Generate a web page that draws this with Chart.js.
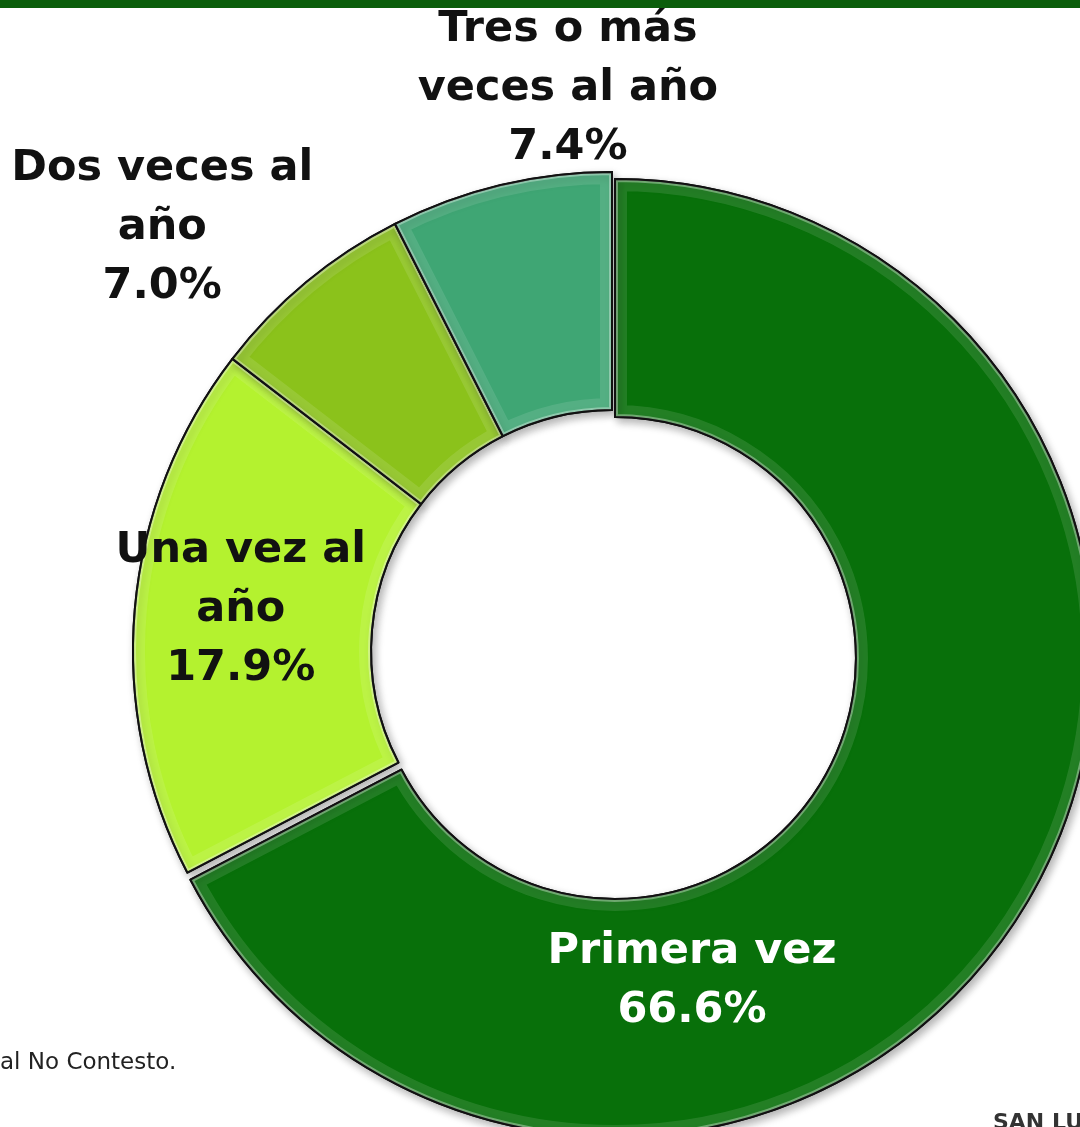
<!DOCTYPE html>
<html>
<head>
<meta charset="utf-8">
<script src="https://cdn.jsdelivr.net/npm/chart.js@4"></script>
<style>
  html, body { margin: 0; padding: 0; background: #fff; }
  body { width: 1080px; height: 1127px; overflow: hidden; position: relative; }
  #topbar { position: absolute; left: 0; top: 0; width: 1080px; height: 8px; background: #0b5e0b; }
  #chart { position: absolute; left: 0; top: 0; }
  #nota { position: absolute; left: 0; top: 1048px; font: 23px "DejaVu Sans", sans-serif; color: #222; white-space: nowrap; }
  #marca { position: absolute; left: 993px; top: 1111px; font: bold 22px "DejaVu Sans", sans-serif; color: #333; white-space: nowrap; line-height: 1; }
</style>
</head>
<body>
<canvas id="chart" width="1080" height="1127"></canvas>
<div id="topbar"></div>
<div id="nota">al No Contesto.</div>
<div id="marca">SAN LUIS</div>
<script>
// categorias (cada una partida en lineas como en la lamina)
var categorias = [
  ['Primera vez'],
  ['Una vez al', 'año'],
  ['Dos veces al', 'año'],
  ['Tres o más', 'veces al año']
];
var porcentajes = [66.6, 17.9, 7.0, 7.4];

var colores = ['#08700a', '#b4f22f', '#8bc21b', '#3fa674'];
var colorTexto = ['#ffffff', '#111111', '#111111', '#111111'];
// rebanada separada (px) como en la lamina
var desplazamiento = [[3, 7], [0, 0], [0, 0], [0, 0]];
// donde va cada etiqueta, relativo al centro, en fracciones del radio
var posEtiqueta = [[0.167, 0.689], [-0.775, -0.086], [-0.939, -0.883], [-0.092, -1.173]];

// dona con rebanadas desplazadas sin cambiar el radio
class DonaSeparada extends Chart.DoughnutController {
  draw() {
    var c = this.chart.ctx;
    var area = this.chart.chartArea;
    this._cachedMeta.data.forEach(function(arc, i) {
      c.save();
      c.translate(desplazamiento[i][0], desplazamiento[i][1]);
      arc.draw(c, area);
      c.restore();
    });
  }
}
DonaSeparada.id = 'donaSeparada';
DonaSeparada.defaults = Chart.DoughnutController.defaults;
DonaSeparada.overrides = Chart.DoughnutController.overrides;
Chart.register(DonaSeparada);

var ctx = document.getElementById('chart').getContext('2d');

// sombra debajo de la dona
var sombra = {
  id: 'sombra',
  beforeDatasetsDraw(chart) {
    var c = chart.ctx;
    c.save();
    c.shadowColor = 'rgba(0,0,0,0.3)';
    c.shadowBlur = 8;
    c.shadowOffsetX = 3;
    c.shadowOffsetY = 4;
  },
  afterDatasetsDraw(chart) {
    chart.ctx.restore();
  }
};

// efecto de bisel en cada rebanada
var bisel = {
  id: 'bisel',
  afterDatasetsDraw(chart) {
    var c = chart.ctx;
    chart.getDatasetMeta(0).data.forEach(function(arc, i) {
      var o = arc.options;
      var cx = arc.x + desplazamiento[i][0];
      var cy = arc.y + desplazamiento[i][1];
      c.save();
      c.beginPath();
      c.arc(cx, cy, arc.outerRadius, arc.startAngle, arc.endAngle);
      c.arc(cx, cy, arc.innerRadius, arc.endAngle, arc.startAngle, true);
      c.closePath();
      c.save();
      c.clip();
      c.lineJoin = 'round';
      c.strokeStyle = 'rgba(255,255,255,0.11)';
      c.lineWidth = 24;
      c.stroke();
      c.strokeStyle = 'rgba(255,255,255,0.35)';
      c.lineWidth = 6;
      c.stroke();
      c.restore();
      c.strokeStyle = o.borderColor;
      c.lineWidth = o.borderWidth;
      c.stroke();
      c.restore();
    });
  }
};

// etiquetas con categoria y porcentaje
var etiquetas = {
  id: 'etiquetas',
  afterDraw(chart) {
    var c = chart.ctx;
    var meta = chart.getDatasetMeta(0);
    c.save();
    c.font = 'bold 43px "DejaVu Sans"';
    c.textAlign = 'center';
    c.textBaseline = 'middle';
    meta.data.forEach(function(arc, i) {
      var r = arc.outerRadius;
      var x = arc.x + posEtiqueta[i][0] * r;
      var y = arc.y + posEtiqueta[i][1] * r;
      var lineas = categorias[i].concat([porcentajes[i].toFixed(1) + '%']);
      c.fillStyle = colorTexto[i];
      lineas.forEach(function(t, j) {
        c.fillText(t, x, y + (j - (lineas.length - 1) / 2) * 59);
      });
    });
    c.restore();
  }
};

var grafico = new Chart(ctx, {
  type: 'donaSeparada',
  data: {
    labels: categorias,
    datasets: [{
      data: porcentajes,
      backgroundColor: colores,
      borderColor: '#111111',
      borderWidth: 2,
      clip: false
    }]
  },
  options: {
    responsive: false,
    animation: false,
    radius: 479,
    cutout: '50.3%',
    layout: {
      padding: { left: 144, top: 175, right: 0, bottom: 0 }
    },
    plugins: {
      legend: { display: false },
      tooltip: { enabled: false }
    }
  },
  plugins: [sombra, bisel, etiquetas]
});
</script>
</body>
</html>
